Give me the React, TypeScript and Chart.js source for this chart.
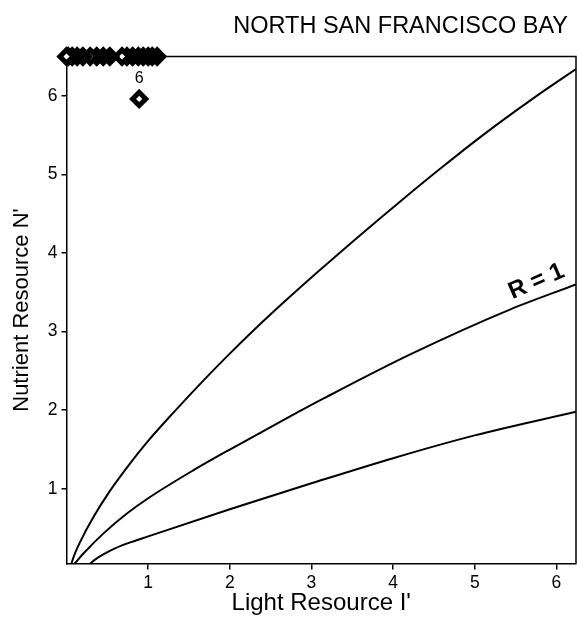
import { useEffect, useRef } from "react";
import { Chart, registerables } from "chart.js";

Chart.register(...registerables);

const FONT = '"Liberation Sans", Arial, Helvetica, sans-serif';

const TITLE = "NORTH SAN FRANCISCO BAY";
const X_TITLE = "Light Resource I'";
const Y_TITLE = "Nutrient Resource N'";
const CURVE_LABEL = "R = 1";

// axis ranges and tick values
const X_MIN = 0;
const X_MAX = 6.24;
const Y_MIN = 0.05;
const Y_MAX = 6.5;
const X_TICKS = [1, 2, 3, 4, 5, 6];
const Y_TICKS = [1, 2, 3, 4, 5, 6];

// upper isoline
const upperI = [0.06, 0.1, 0.16, 0.33, 0.53, 0.74, 1.0, 1.31, 1.67, 2.0, 2.5, 3.1, 3.6, 4.08, 4.61, 5.1, 5.72, 6.24];
const upperN = [0.05, 0.17, 0.31, 0.64, 0.97, 1.27, 1.61, 1.97, 2.37, 2.72, 3.22, 3.78, 4.23, 4.65, 5.1, 5.5, 5.97, 6.34];

// R = 1 isoline
const middleI = [0.1, 0.21, 0.45, 0.74, 1.0, 1.56, 2.0, 2.7, 3.15, 4.21, 5.43, 6.24];
const middleN = [0.05, 0.18, 0.43, 0.685, 0.88, 1.24, 1.5, 1.9, 2.15, 2.71, 3.28, 3.6];

// lower isoline
const lowerI = [0.29, 0.35, 0.45, 0.6, 0.8, 1.0, 2.0, 3.0, 4.0, 5.0, 6.24];
const lowerN = [0.05, 0.1, 0.165, 0.245, 0.325, 0.395, 0.74, 1.07, 1.39, 1.68, 1.98];

// observations above the top of the axis, pinned to its upper edge
const cappedI = [1.11, 1.05, 1.0, 0.94, 0.88, 0.81, 0.74, 0.68, 0.53, 0.45, 0.37, 0.29, 0.2, 0.13, 0.07, 0.02, 0.0];
const cappedN = [6.5, 6.5, 6.5, 6.5, 6.5, 6.5, 6.5, 6.5, 6.5, 6.5, 6.5, 6.5, 6.5, 6.5, 6.5, 6.5, 6.5];

// single labelled observation
const singleI = [0.89];
const singleN = [5.96];
const singleLabel = ["6"];

// point on the R = 1 curve where its label starts
const curveLabelAt = { x: 5.45, y: 3.29 };

const toPoints = (xs: number[], ys: number[]) => xs.map((x, i) => ({ x, y: ys[i] }));

const curve = (xs: number[], ys: number[]) => ({
  data: toPoints(xs, ys),
  showLine: true,
  borderColor: "#000",
  borderWidth: 2,
  pointRadius: 0,
  pointHoverRadius: 0,
  cubicInterpolationMode: "monotone" as const,
  fill: false,
});

const diamonds = (xs: number[], ys: number[]) => ({
  data: toPoints(xs, ys),
  showLine: false,
  pointStyle: "rectRot" as const,
  pointRadius: 6.6,
  pointHoverRadius: 6.6,
  borderWidth: 5,
  borderColor: "#000",
  backgroundColor: "#fff",
  clip: false as const,
});

const decorations = {
  id: "decorations",
  beforeDatasetsDraw(chart: any) {
    const { ctx, chartArea: a } = chart;
    ctx.save();
    ctx.strokeStyle = "#000";
    ctx.lineWidth = 1.5;
    ctx.beginPath();
    ctx.moveTo(a.left, a.top);
    ctx.lineTo(a.right, a.top);
    ctx.lineTo(a.right, a.bottom);
    ctx.stroke();
    ctx.restore();
  },
  afterDraw(chart: any) {
    const { ctx, chartArea: a } = chart;
    const xs = chart.scales.x;
    const ys = chart.scales.y;
    ctx.save();
    ctx.fillStyle = "#000";

    // plot title, top right
    ctx.font = `23.5px ${FONT}`;
    ctx.textAlign = "right";
    ctx.textBaseline = "middle";
    ctx.fillText(TITLE, a.right - 8, 27);

    // curve label laid along the R = 1 line
    const px = xs.getPixelForValue(curveLabelAt.x);
    const py = ys.getPixelForValue(curveLabelAt.y);
    ctx.save();
    ctx.translate(px + 1, py - 9.5);
    ctx.rotate((-23.6 * Math.PI) / 180);
    ctx.font = `bold 24px ${FONT}`;
    ctx.textAlign = "left";
    ctx.textBaseline = "alphabetic";
    ctx.fillText(CURVE_LABEL, 0, 0);
    ctx.restore();

    // label above the single observation
    ctx.font = `16px ${FONT}`;
    ctx.textAlign = "center";
    ctx.textBaseline = "middle";
    singleI.forEach((v, i) => {
      ctx.fillText(singleLabel[i], xs.getPixelForValue(v), ys.getPixelForValue(singleN[i]) - 20);
    });
    ctx.restore();
  },
};

export default function App() {
  const ref = useRef<HTMLCanvasElement>(null);

  useEffect(() => {
    const canvas = ref.current;
    if (!canvas) return;
    const axisCommon = {
      type: "linear" as const,
      grid: {
        display: true,
        drawOnChartArea: false,
        drawTicks: true,
        color: "#000",
        lineWidth: 1.5,
      },
      border: { display: true, color: "#000", width: 1.5 },
    };
    const chart = new Chart(canvas, {
      type: "scatter",
      data: {
        datasets: [
          curve(upperI, upperN),
          curve(middleI, middleN),
          curve(lowerI, lowerN),
          diamonds(cappedI, cappedN),
          diamonds(singleI, singleN),
        ] as any,
      },
      options: {
        responsive: false,
        maintainAspectRatio: false,
        animation: false,
        devicePixelRatio: 1,
        layout: { autoPadding: false, padding: { top: 56.5, left: 0, right: 1, bottom: 0 } },
        plugins: {
          legend: { display: false },
          tooltip: { enabled: false },
          title: { display: false },
        },
        scales: {
          x: {
            ...axisCommon,
            min: X_MIN,
            max: X_MAX,
            grid: { ...axisCommon.grid, tickLength: 6 },
            afterBuildTicks: (s: any) => {
              s.ticks = X_TICKS.map((value) => ({ value }));
            },
            afterFit: (s: any) => {
              s.height = 60.5;
              s.paddingLeft = 0;
              s.paddingRight = 0;
            },
            ticks: {
              color: "#000",
              font: { family: FONT, size: 17.5 },
              padding: 3,
              maxRotation: 0,
              autoSkip: false,
              callback: (v: any) => String(v),
            },
            title: {
              display: true,
              text: X_TITLE,
              color: "#000",
              font: { family: FONT, size: 24 },
              padding: { top: 0, bottom: 6 },
            },
          },
          y: {
            ...axisCommon,
            min: Y_MIN,
            max: Y_MAX,
            grid: { ...axisCommon.grid, tickLength: 5 },
            afterBuildTicks: (s: any) => {
              s.ticks = Y_TICKS.map((value) => ({ value }));
            },
            afterFit: (s: any) => {
              s.width = 66.5;
              s.paddingTop = 0;
              s.paddingBottom = 0;
            },
            ticks: {
              color: "#000",
              font: { family: FONT, size: 17.5 },
              padding: 4,
              autoSkip: false,
              callback: (v: any) => String(v),
            },
            title: {
              display: true,
              text: Y_TITLE,
              color: "#000",
              font: { family: FONT, size: 22 },
              padding: { top: 9, bottom: 0 },
            },
          },
        },
      },
      plugins: [decorations],
    });
    return () => chart.destroy();
  }, []);

  return (
    <div
      style={{
        position: "fixed",
        left: 0,
        top: 0,
        width: 577,
        height: 624,
        background: "#fff",
      }}
    >
      <canvas ref={ref} width={577} height={624} style={{ display: "block", width: 577, height: 624 }} />
    </div>
  );
}
